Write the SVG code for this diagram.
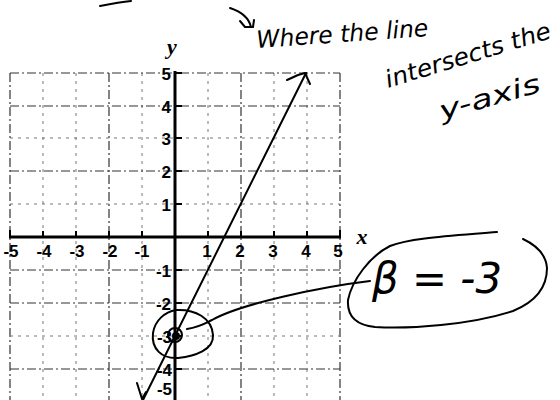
<svg xmlns="http://www.w3.org/2000/svg" width="560" height="400" viewBox="0 0 560 400">
<style>
.grid{stroke:#777;stroke-width:1;stroke-dasharray:3 5;fill:none}
.gridm{stroke:#333;stroke-width:1.2;stroke-dasharray:9 3 2 3;fill:none}
.axis{stroke:#000;stroke-width:3;fill:none}
.tick{stroke:#000;stroke-width:2}
.num{font-family:"Liberation Sans",Arial,sans-serif;font-weight:bold;font-size:17px;fill:#000}
.var{font-family:"Liberation Serif","Times New Roman",serif;font-style:italic;font-weight:bold;font-size:22px;fill:#000}
.hand{font-family:"DejaVu Sans","Liberation Sans",sans-serif;font-style:italic;fill:#000}
.pen{stroke:#000;stroke-width:2;fill:none;stroke-linecap:round;stroke-linejoin:round}
</style>
<rect width="560" height="400" fill="#fff"/>
<g id="grid">
<path class="grid" d="M43,73V400M76,73V400M142,73V400M208,73V400M274,73V400M307,73V400"/>
<path class="gridm" d="M10,73V400M109,73V400M241,73V400M340,73V400"/>
<path class="grid" d="M10,138H340M10,204H340M10,336H340"/>
<path class="gridm" d="M10,73H340M10,106H340M10,171H340M10,270H340M10,303H340M10,369H340"/>
</g>
<g id="axes">
<path class="axis" d="M175,71V400M9,237H341"/>
<path class="tick" d="M10,237V230M43,237V231M76,237V231M109,237V231M142,237V231M208,237V231M241,237V231M274,237V231M307,237V231M340,237V230"/>
<path class="tick" d="M175,73H182M175,106H182M175,138H182M175,171H182M175,204H182M175,270H182M175,303H182M175,336H182M175,369H182"/>
</g>
<g id="x-labels" class="num" text-anchor="middle">
<text x="11" y="257">-5</text><text x="44" y="257">-4</text><text x="77" y="257">-3</text><text x="110" y="257">-2</text><text x="142" y="257">-1</text>
<text x="207" y="257">1</text><text x="240" y="257">2</text><text x="273" y="257">3</text><text x="306" y="257">4</text><text x="338" y="257">5</text>
</g>
<g id="y-labels" class="num" text-anchor="end">
<text x="171" y="80">5</text><text x="171" y="113">4</text><text x="171" y="145">3</text><text x="171" y="178">2</text><text x="171" y="211">1</text>
<text x="171" y="277">-1</text><text x="171" y="310">-2</text><text x="172" y="343">-3</text><text x="172" y="376">-4</text><text x="172" y="395">-5</text>
</g>
<text id="x-var" class="var" x="362" y="244" text-anchor="middle">x</text>
<text id="y-var" class="var" x="172" y="54" text-anchor="middle" font-size="20">y</text>
<g id="line">
<path class="pen" stroke-width="1.8" d="M143,400L306,73"/>
<path class="pen" stroke-width="3" d="M287,80L298,75L305,73L310,84"/>
<path class="pen" stroke-width="3" d="M137,383L142,399L146,392"/>
</g>
<g id="intercept">
<circle cx="176" cy="336" r="4" fill="#000"/>
<circle cx="175" cy="335" r="7" class="pen" stroke-width="1.5"/>
<path class="pen" d="M176,310C195,309 212,318 213,335C214,350 195,356 178,358C162,359 151,349 153,333C155,320 165,312 176,310Z"/>
</g>
<g id="connectors">
<path class="pen" d="M187,329C200,327 206,323 212,320C240,304 320,287 370,281"/>
<path class="pen" d="M230,8C242,12 249,18 251,27M240,21L245,27L253,27L254,20"/>
</g>
<g id="beta-label">
<path class="pen" d="M497,232C450,236 410,238 390,246C370,256 352,280 348,300C347,315 355,325 375,327C410,329 470,325 513,311C535,302 547,288 547,268C546,255 538,246 523,239"/>
<text class="hand" x="372" y="293" font-size="42" textLength="130" lengthAdjust="spacingAndGlyphs" font-style="normal">β = -3</text>
</g>
<g id="notes">
<path class="pen" d="M100,6C110,4 120,2 131,1"/>
<text class="hand" font-size="24" transform="translate(257,48) rotate(-4)" textLength="172" lengthAdjust="spacingAndGlyphs">Where the line</text>
<text class="hand" font-size="24" transform="translate(388,88) rotate(-17)" textLength="172" lengthAdjust="spacingAndGlyphs">intersects the</text>
<text class="hand" font-size="26" transform="translate(442,120) rotate(-16)" textLength="104" lengthAdjust="spacingAndGlyphs">y-axis</text>
</g>
</svg>
